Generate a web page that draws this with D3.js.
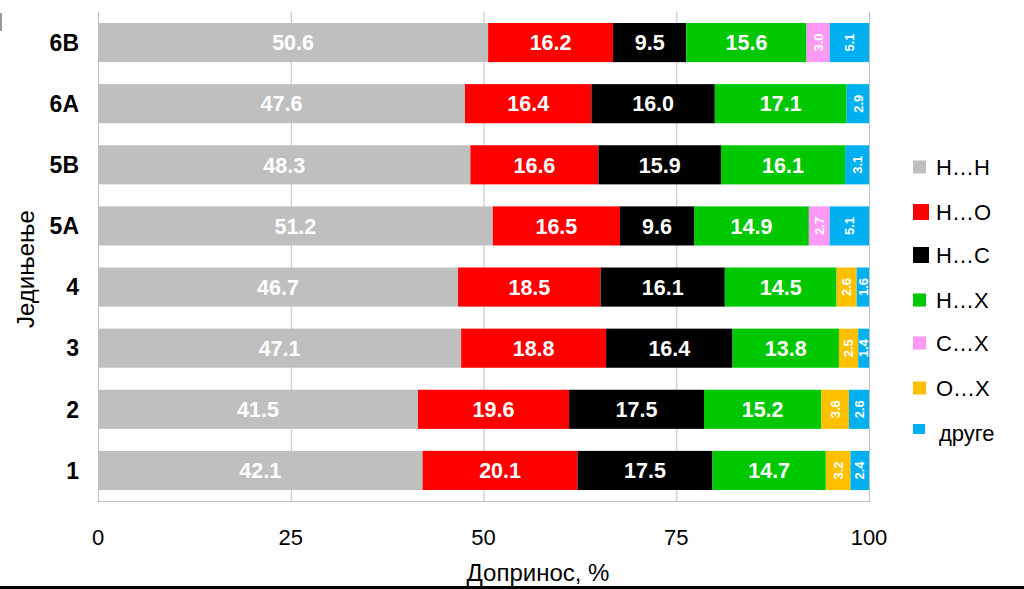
<!DOCTYPE html>
<html>
<head>
<meta charset="utf-8">
<script src="https://cdn.jsdelivr.net/npm/d3@7"></script>
<style>
  html, body { margin: 0; padding: 0; background: #fff; }
  svg { display: block; font-family: "Liberation Sans", Arial, sans-serif; }
</style>
</head>
<body>
<svg id="chart" width="1024" height="589"></svg>
<script>
// ---- data ----
const categories = ["6B", "6A", "5B", "5A", "4", "3", "2", "1"];
const seriesNames = ["H…H", "H…O", "H…C", "H…X", "C…X", "O…X", "друге"];
const seriesColors = ["#bfbfbf", "#ff0000", "#000000", "#00c800", "#ff99f5", "#ffc000", "#00b0f0"];
const valuesHH = [50.6, 47.6, 48.3, 51.2, 46.7, 47.1, 41.5, 42.1];
const valuesHO = [16.2, 16.4, 16.6, 16.5, 18.5, 18.8, 19.6, 20.1];
const valuesHC = [9.5, 16.0, 15.9, 9.6, 16.1, 16.4, 17.5, 17.5];
const valuesHX = [15.6, 17.1, 16.1, 14.9, 14.5, 13.8, 15.2, 14.7];
const valuesCX = [3.0, 0, 0, 2.7, 0, 0, 0, 0];
const valuesOX = [0, 0, 0, 0, 2.6, 2.5, 3.6, 3.2];
const valuesOther = [5.1, 2.9, 3.1, 5.1, 1.6, 1.4, 2.6, 2.4];
const xTicks = [0, 25, 50, 75, 100];
const xTitle = "Допринос, %";
const yTitle = "Једињење";

(function () {
const seriesValues = [valuesHH, valuesHO, valuesHC, valuesHX, valuesCX, valuesOX, valuesOther];
const rows = categories.map((c, i) => {
  const r = { cat: c };
  seriesNames.forEach((s, j) => r[s] = seriesValues[j][i]);
  return r;
});

// ---- layout ----
const svg = d3.select("#chart");
const pLeft = 98, pRight = 869, pTop = 12, pBottom = 501;

const x = d3.scaleLinear().domain([0, 100]).range([pLeft, pRight]);
const y = d3.scaleBand().domain(categories).range([pTop, pBottom]).paddingInner(0.36).paddingOuter(0.18);

// gridlines
svg.append("g").selectAll("line").data(xTicks).join("line")
  .attr("x1", d => x(d) + 0.5).attr("x2", d => x(d) + 0.5)
  .attr("y1", pTop).attr("y2", pBottom)
  .attr("stroke", "#bfbfbf").attr("stroke-width", 1);
// bottom axis line
svg.append("line").attr("x1", pLeft).attr("x2", pRight + 1)
  .attr("y1", pBottom + 0.5).attr("y2", pBottom + 0.5)
  .attr("stroke", "#bfbfbf").attr("stroke-width", 1);

// stacked bars
const stacked = d3.stack().keys(seriesNames)(rows);

const groups = svg.append("g").selectAll("g").data(stacked).join("g")
  .attr("fill", (d, i) => seriesColors[i]);

groups.selectAll("rect").data(d => d.filter(p => p[1] - p[0] > 0)).join("rect")
  .attr("x", d => x(d[0]))
  .attr("y", d => y(d.data.cat))
  .attr("width", d => x(d[1]) - x(d[0]))
  .attr("height", y.bandwidth());

// labels
const labelData = [];
stacked.forEach((s, i) => {
  s.forEach(p => {
    const v = p[1] - p[0];
    if (v > 0) labelData.push({ v: v, cx: x((p[0] + p[1]) / 2), cy: y(p.data.cat) + y.bandwidth() / 2, small: v < 6 });
  });
});

svg.append("g").selectAll("text").data(labelData).join("text")
  .attr("transform", d => d.small ? `translate(${d.cx},${d.cy}) rotate(-90)` : `translate(${d.cx},${d.cy})`)
  .attr("text-anchor", "middle")
  .attr("dy", "0.36em")
  .attr("fill", "#fff")
  .attr("font-weight", "bold")
  .attr("font-size", d => d.small ? 13 : 21.5)
  .text(d => d.v.toFixed(1));

// y category labels
svg.append("g").selectAll("text").data(categories).join("text")
  .attr("x", 79)
  .attr("y", d => y(d) + y.bandwidth() / 2)
  .attr("dy", "0.36em")
  .attr("text-anchor", "end")
  .attr("font-weight", "bold")
  .attr("font-size", 23)
  .attr("fill", "#000")
  .text(d => d);

// x tick labels
svg.append("g").selectAll("text").data(xTicks).join("text")
  .attr("x", d => x(d))
  .attr("y", 537)
  .attr("dy", "0.36em")
  .attr("text-anchor", "middle")
  .attr("font-size", 22)
  .attr("fill", "#000")
  .text(d => d);

// axis titles
svg.append("text").attr("x", 538).attr("y", 572).attr("dy", "0.36em")
  .attr("text-anchor", "middle").attr("font-size", 24).attr("fill", "#000").text(xTitle);
svg.append("text").attr("transform", "translate(25,269) rotate(-90)")
  .attr("dy", "0.36em").attr("text-anchor", "middle").attr("font-size", 24).attr("fill", "#000").text(yTitle);

// legend
const legendY = [167, 212, 255, 300, 343, 388, 433];
const markerSize = [13, 16, 16, 13, 13, 13, 12];
const leg = svg.append("g").selectAll("g").data(seriesNames).join("g")
  .attr("transform", (d, i) => `translate(913,${legendY[i]})`);
leg.append("rect")
  .attr("x", 0)
  .attr("y", (d, i) => -markerSize[i] / 2 - (i === 6 ? 3 : 0))
  .attr("width", (d, i) => markerSize[i])
  .attr("height", (d, i) => i === 6 ? 10 : markerSize[i])
  .attr("fill", (d, i) => seriesColors[i]);
leg.append("text")
  .attr("x", (d, i) => i === 6 ? 26 : 23)
  .attr("dy", "0.36em")
  .attr("font-size", 22)
  .attr("fill", "#000")
  .text(d => d);

// frame remnants
svg.append("line").attr("x1", 1).attr("x2", 1).attr("y1", 13).attr("y2", 31)
  .attr("stroke", "#999").attr("stroke-width", 2);
svg.append("rect").attr("x", 0).attr("y", 586).attr("width", 1024).attr("height", 3).attr("fill", "#000");
})();
</script>
</body>
</html>
